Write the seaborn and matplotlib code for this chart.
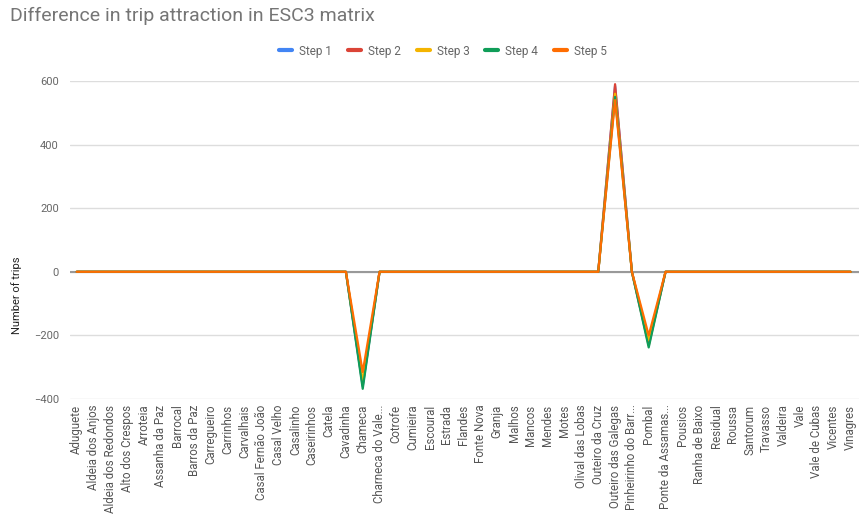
import matplotlib
matplotlib.use('Agg')
import matplotlib.pyplot as plt
import seaborn as sns
import pandas as pd

sns.set_style('white')
plt.rcParams['font.family'] = ['Roboto', 'DejaVu Sans']

# 지역 이름 (x축)
zones = ['Aduguete', 'Aldeia dos Anjos', 'Aldeia dos Redondos', 'Alto dos Crespos', 'Arroteia',
         'Assanha da Paz', 'Barrocal', 'Barros da Paz', 'Carregueiro', 'Carrinhos', 'Carvalhais',
         'Casal Fernão João', 'Casal Velho', 'Casalinho', 'Caseirinhos', 'Catela', 'Cavadinha',
         'Chameca', 'Charneca do Vale...', 'Cotrofe', 'Cumieira', 'Escoural', 'Estrada', 'Flandes',
         'Fonte Nova', 'Granja', 'Malhos', 'Mancos', 'Mendes', 'Motes', 'Olival das Lobas',
         'Outeiro da Cruz', 'Outeiro das Galegas', 'Pinheirinho do Barr...', 'Pombal',
         'Ponte da Assamas...', 'Pousios', 'Ranha de Baixo', 'Residual', 'Roussa', 'Santorum',
         'Travasso', 'Valdeira', 'Vale', 'Vale de Cubas', 'Vicentes', 'Vinagres']

# 단계별 차이 값
step1 = [0, 0, 0, 0, 0, 0, 0, 0, 0, 0, 0, 0, 0, 0, 0, 0, 0, -360, 0, 0, 0, 0, 0, 0,
         0, 0, 0, 0, 0, 0, 0, 0, 585, 0, -225, 0, 0, 0, 0, 0, 0, 0, 0, 0, 0, 0, 0]
step2 = [0, 0, 0, 0, 0, 0, 0, 0, 0, 0, 0, 0, 0, 0, 0, 0, 0, -355, 0, 0, 0, 0, 0, 0,
         0, 0, 0, 0, 0, 0, 0, 0, 590, 0, -232, 0, 0, 0, 0, 0, 0, 0, 0, 0, 0, 0, 0]
step3 = [0, 0, 0, 0, 0, 0, 0, 0, 0, 0, 0, 0, 0, 0, 0, 0, 0, -345, 0, 0, 0, 0, 0, 0,
         0, 0, 0, 0, 0, 0, 0, 0, 560, 0, -215, 0, 0, 0, 0, 0, 0, 0, 0, 0, 0, 0, 0]
step4 = [0, 0, 0, 0, 0, 0, 0, 0, 0, 0, 0, 0, 0, 0, 0, 0, 0, -368, 0, 0, 0, 0, 0, 0,
         0, 0, 0, 0, 0, 0, 0, 0, 550, 0, -238, 0, 0, 0, 0, 0, 0, 0, 0, 0, 0, 0, 0]
step5 = [0, 0, 0, 0, 0, 0, 0, 0, 0, 0, 0, 0, 0, 0, 0, 0, 0, -315, 0, 0, 0, 0, 0, 0,
         0, 0, 0, 0, 0, 0, 0, 0, 540, 0, -200, 0, 0, 0, 0, 0, 0, 0, 0, 0, 0, 0, 0]

steps = ['Step 1', 'Step 2', 'Step 3', 'Step 4', 'Step 5']
colors = ['#4285F4', '#DB4437', '#F4B400', '#0F9D58', '#FF6D01']

rows = []
for name, vals in zip(steps, [step1, step2, step3, step4, step5]):
    for i, v in enumerate(vals):
        rows.append({'idx': i, 'trips': v, 'step': name})
df = pd.DataFrame(rows)

fig = plt.figure(figsize=(8.59, 5.14), dpi=100)
ax = fig.add_axes([70 / 859, 115 / 514, 789 / 859, 318 / 514])

ax.axhline(0, color='#999999', lw=1.5, zorder=1)
sns.lineplot(data=df, x='idx', y='trips', hue='step', palette=colors, lw=1.6, ax=ax, zorder=3)

ax.set_xlim(-0.4, 46.5)
ax.set_ylim(-400, 600)
ax.set_yticks([-400, -200, 0, 200, 400, 600])
ax.yaxis.grid(True, color='#dddddd', lw=1)
ax.set_xticks(range(len(zones)))
ax.set_xticklabels(zones, rotation=90, fontsize=8.3, color='#555555')
ax.tick_params(axis='y', labelsize=8, colors='#666666', length=0, pad=8)
ax.tick_params(axis='x', length=0, pad=4)
for s in ax.spines.values():
    s.set_visible(False)
ax.set_xlabel('')
ax.set_ylabel('Number of trips', fontsize=8, color='#222222')
ax.yaxis.set_label_coords(-0.061, 0.325)

ax.get_legend().remove()
handles = [plt.Line2D([0], [0], color=c, lw=3) for c in colors]
fig.legend(handles, steps, loc='center', bbox_to_anchor=(443 / 859, 1 - 51 / 514), ncol=5,
           frameon=False, fontsize=8.5, handlelength=1.1, handletextpad=0.6,
           columnspacing=1.35, labelcolor='#666666')

fig.text(10 / 859, 1 - 16 / 514, 'Difference in trip attraction in ESC3 matrix',
         fontsize=14, color='#757575', va='center', ha='left')

fig.savefig('out.png', dpi=100)
